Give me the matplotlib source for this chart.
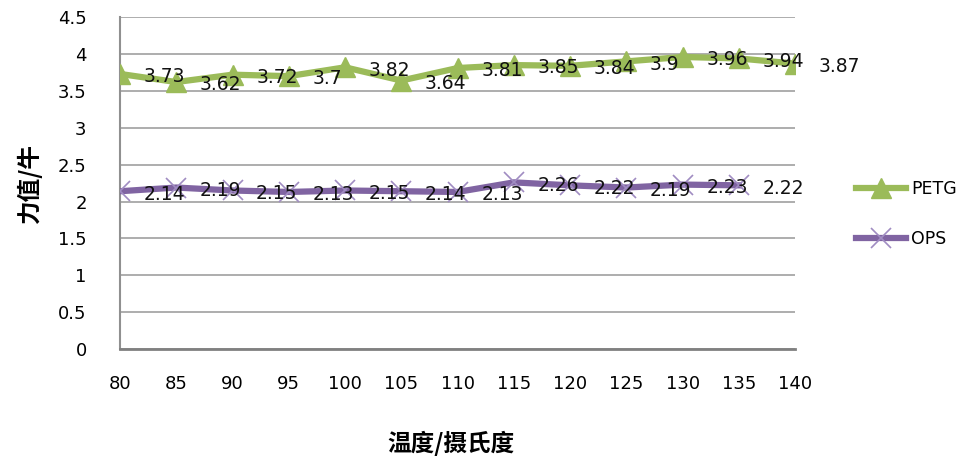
import numpy as np
import matplotlib.pyplot as plt

plt.rcParams['font.family'] = ['DejaVu Sans', 'Noto Sans CJK SC']

temps = ["80", "85", "90", "95", "100", "105", "110", "115", "120", "125", "130", "135", "140"]
petg = [3.73, 3.62, 3.72, 3.7, 3.82, 3.64, 3.81, 3.85, 3.84, 3.9, 3.96, 3.94, 3.87]
ops = [2.14, 2.19, 2.15, 2.13, 2.15, 2.14, 2.13, 2.26, 2.22, 2.19, 2.23, 2.22, np.nan]

green = "#9BBB59"
purple = "#8064A2"

fig = plt.figure(figsize=(9.7, 4.63), dpi=100)
ax = fig.add_axes([0.1237, 0.246, 0.696, 0.717])

x = np.arange(len(temps))
ax.plot(x, petg, color=green, lw=4.5, marker="^", ms=14, mfc=green, mec=green,
        label="PETG", zorder=3)
ax.plot(x, ops, color=purple, lw=4.5, marker="x", ms=15, mec="#a08cc2", mew=1.2,
        label="OPS", zorder=3)

# data labels to the right of each point
for xi, v in zip(x, petg):
    ax.annotate(f"{v:g}", (xi, v), xytext=(17, -2), textcoords="offset points",
                ha="left", va="center", fontsize=13.5, color="#111111", zorder=4)
for xi, v in zip(x, ops):
    if np.isnan(v):
        continue
    ax.annotate(f"{v:g}", (xi, v), xytext=(17, -2), textcoords="offset points",
                ha="left", va="center", fontsize=13.5, color="#111111", zorder=4)

ax.set_xlim(0, len(temps) - 1)
ax.set_ylim(0, 4.5)
ax.set_yticks(np.arange(0, 4.51, 0.5))
ax.set_yticklabels(["0", "0.5", "1", "1.5", "2", "2.5", "3", "3.5", "4", "4.5"])
ax.set_xticks(x)
ax.set_xticklabels(temps)
ax.tick_params(axis="x", length=0, labelsize=13, pad=19)
ax.tick_params(axis="y", length=0, labelsize=13, pad=24)
ax.grid(axis="y", color="#a0a0a0", lw=1.2)
ax.set_axisbelow(True)
for s in ["top", "right"]:
    ax.spines[s].set_visible(False)
ax.spines["left"].set_color("#909090")
ax.spines["left"].set_linewidth(1.5)
ax.spines["bottom"].set_color("#808080")
ax.spines["bottom"].set_linewidth(2)

ax.set_xlabel("温度/摄氏度", fontsize=17, fontweight="bold",
              family=["Noto Sans CJK SC", "DejaVu Sans"])
ax.set_ylabel("力值/牛", fontsize=17, fontweight="bold",
              family=["Noto Sans CJK SC", "DejaVu Sans"])
ax.xaxis.set_label_coords(0.49, -0.245)
ax.yaxis.set_label_coords(-0.115, 0.5)

fig.legend(loc="upper left", bbox_to_anchor=(0.866, 0.645), frameon=False,
           fontsize=12.5, handlelength=2.9, labelspacing=1.85, handletextpad=0.3)

fig.savefig("out.png", dpi=100)
